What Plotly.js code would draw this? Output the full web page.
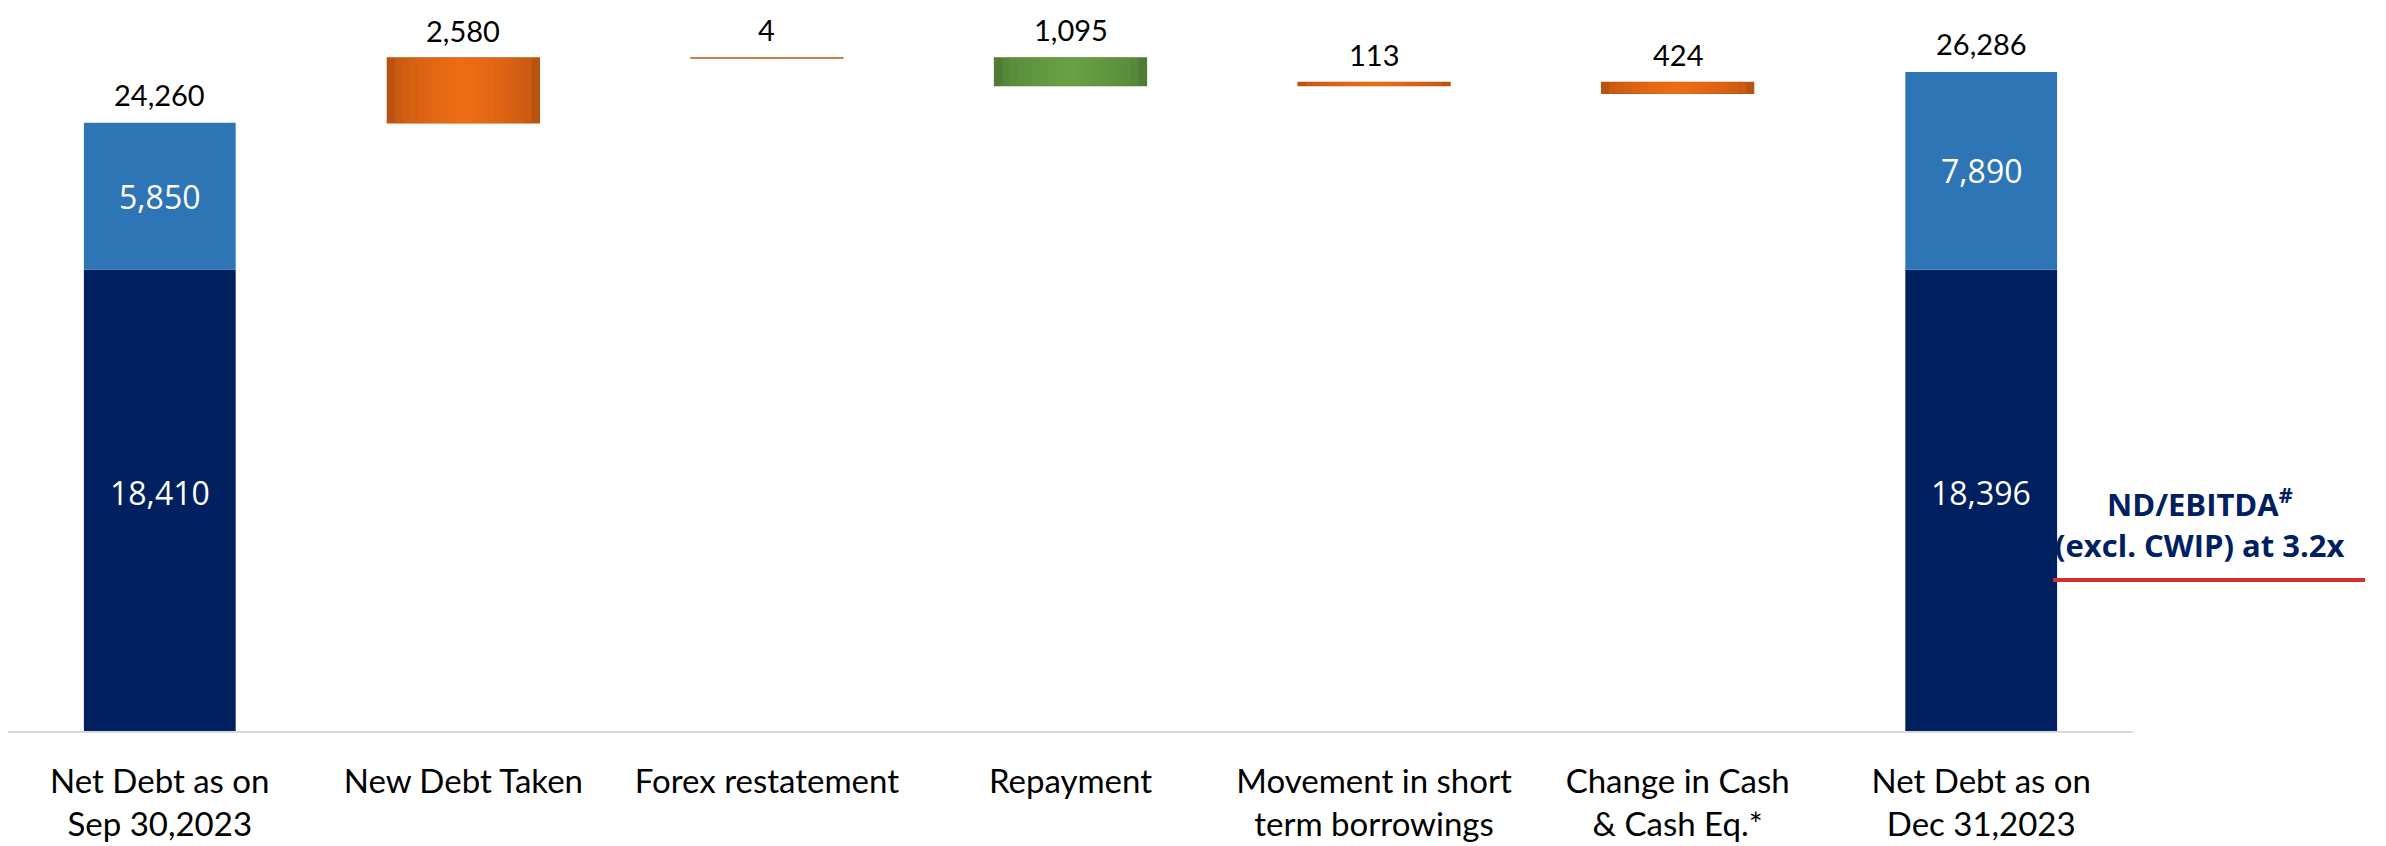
<!DOCTYPE html>
<html><head><meta charset="utf-8">
<script src="https://cdn.plot.ly/plotly-3.0.1.min.js"></script>
<style>html,body{margin:0;padding:0;background:#fff}#chart{width:2386px;height:846px}</style>
</head><body><div id="chart"></div>
<script>
// ---- data ----
const categories = [
  "Net Debt as on<br>Sep 30,2023",
  "New Debt Taken",
  "Forex restatement",
  "Repayment",
  "Movement in short<br>term borrowings",
  "Change in Cash<br>& Cash Eq.*",
  "Net Debt as on<br>Dec 31,2023"
];
// stacked totals (first and last bar)
const netDebtBase   = [18410, null, null, null, null, null, 18396];
const netDebtUpper  = [5850,  null, null, null, null, null, 7890];
// waterfall movements
const changeValues  = [null, 2580, 4, 1095, 113, 424, null];
const changeKind    = [null, "up", "up", "down", "up", "up", null];      // colour
const drawnDirection= [0, 1, 1, -1, 1, -1, 0];                           // as drawn in the reference
const noteLine1 = "ND/EBITDA<sup>#</sup>";
const noteLine2 = "(excl. CWIP) at 3.2x";

// ---- styling ----
const NAVY = "#002060", BLUE = "#2E75B6";
const GRAD = {
  up:   {edge: [186, 82, 18],  center: [236, 108, 20]},
  down: {edge: [78, 124, 52],  center: [104, 160, 68]}
};
const BAR_W = 0.5, LAYERS = 10;

// ---- compute waterfall bases ----
const n = categories.length;
const bases = new Array(n).fill(null);
const tops = new Array(n).fill(null);
let level = netDebtBase[0] + netDebtUpper[0];
for (let i = 0; i < n; i++) {
  if (changeValues[i] == null) continue;
  const v = changeValues[i];
  if (drawnDirection[i] > 0) { bases[i] = level; level += v; }
  else { bases[i] = level - v; level -= v; }
  tops[i] = bases[i] + v;
}

const traces = [];
traces.push({type: "bar", x: categories, y: netDebtBase, base: netDebtBase.map(v => v == null ? null : 0),
  width: BAR_W, marker: {color: NAVY, opacity: 1}, hoverinfo: "skip"});
traces.push({type: "bar", x: categories, y: netDebtUpper, base: netDebtBase,
  width: BAR_W, marker: {color: BLUE, opacity: 1}, hoverinfo: "skip"});

function mix(a, b, t) {
  return "rgb(" + a.map((c, j) => Math.round(c + (b[j] - c) * t)).join(",") + ")";
}
["up", "down"].forEach(kind => {
  const ys = changeValues.map((v, i) => changeKind[i] === kind ? v : null);
  const bs = bases.map((b, i) => changeKind[i] === kind ? b : null);
  for (let k = 0; k < LAYERS; k++) {
    const t = k / (LAYERS - 1);
    const col = mix(GRAD[kind].edge, GRAD[kind].center, Math.sqrt(t));
    traces.push({type: "bar", x: categories, y: ys, base: bs,
      width: BAR_W * (1 - k / LAYERS),
      marker: {color: col, opacity: 1, line: {width: k === 0 ? 1.5 : 0, color: col}},
      hoverinfo: "skip"});
  }
});

const fmt = v => v.toLocaleString("en-US");
const annotations = [];
for (let i = 0; i < n; i++) {
  let topVal, label;
  if (netDebtBase[i] != null) {
    topVal = netDebtBase[i] + netDebtUpper[i];
    label = fmt(topVal);
    annotations.push({x: categories[i], y: netDebtBase[i] / 2, text: fmt(netDebtBase[i]), showarrow: false,
      yshift: 8, font: {family: "Open Sans", size: 32, color: "#fff"}});
    annotations.push({x: categories[i], y: netDebtBase[i] + netDebtUpper[i] / 2, text: fmt(netDebtUpper[i]), showarrow: false,
      font: {family: "Open Sans", size: 32, color: "#fff"}});
  } else {
    topVal = tops[i];
    label = fmt(changeValues[i]);
  }
  annotations.push({x: categories[i], y: topVal, text: label, showarrow: false, yanchor: "middle", yshift: 28,
    font: {family: "Lato", size: 29, color: "#000"}});
}
annotations.push({xref: "paper", yref: "paper", x: 1.0315, xanchor: "center", y: 0.326, yanchor: "middle",
  text: "<b>" + noteLine1 + "</b>", showarrow: false, font: {family: "Open Sans", size: 31, color: NAVY}});
annotations.push({xref: "paper", yref: "paper", x: 1.0315, xanchor: "center", y: 0.265, yanchor: "middle",
  text: "<b>" + noteLine2 + "</b>", showarrow: false, font: {family: "Open Sans", size: 31, color: NAVY}});

const layout = {
  width: 2386, height: 846,
  margin: {l: 8, r: 253, t: 29, b: 115},
  barmode: "overlay",
  showlegend: false,
  paper_bgcolor: "#fff", plot_bgcolor: "#fff",
  xaxis: {type: "category", range: [-0.5, 6.5], showline: true, linecolor: "#d9d9d9", linewidth: 2,
    ticks: "outside", ticklen: 20, tickcolor: "rgba(0,0,0,0)", showgrid: false, zeroline: false,
    tickfont: {family: "Lato", size: 33, color: "#000"}},
  yaxis: {range: [0, 28000], visible: false, showgrid: false, zeroline: false},
  annotations: annotations,
  shapes: [{type: "line", xref: "paper", yref: "paper", x0: 0.9624, x1: 1.1092, y0: 0.215, y1: 0.215,
    line: {color: "#D32F2F", width: 4}}]
};
Plotly.newPlot("chart", traces, layout, {displayModeBar: false, staticPlot: true});
</script></body></html>
